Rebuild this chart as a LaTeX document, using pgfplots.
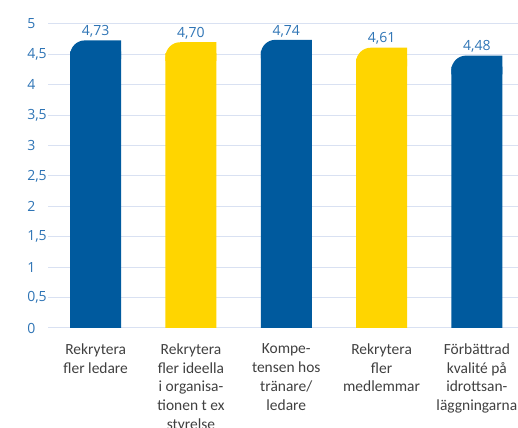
\documentclass[border=0pt]{standalone}
\usepackage{pgfplots}
\pgfplotsset{compat=1.18}
\usepackage{pgfplotstable}
\usepackage{fontspec}
\setmainfont{Carlito}
\newfontfamily\numfont{Open Sans}

\definecolor{barblue}{RGB}{0,90,158}
\definecolor{baryellow}{RGB}{255,213,0}
\definecolor{numblue}{RGB}{46,116,181}
\definecolor{gridc}{RGB}{217,225,242}
\definecolor{labc}{RGB}{64,64,64}

% top of a bar: square on the right, rounded on the left (half width 19.125pt)
\pgfdeclareplotmark{roundtop}{%
  \pgfpathmoveto{\pgfpoint{-19.125pt}{-14pt}}%
  \pgfpathlineto{\pgfpoint{-19.125pt}{-11pt}}%
  \pgfpatharc{180}{90}{11pt}%
  \pgfpathlineto{\pgfpoint{19.125pt}{0pt}}%
  \pgfpathlineto{\pgfpoint{19.125pt}{-14pt}}%
  \pgfpathclose
  \pgfusepathqfill}

\pgfplotstableread{
x v
0 4.73
2 4.74
4 4.48
}\bluebars
\pgfplotstableread{
x v
1 4.70
3 4.61
}\yellowbars

\begin{document}
\begin{tikzpicture}
\begin{axis}[
  at={(36pt,75pt)}, anchor=south west,
  scale only axis, width=357.4pt, height=228pt,
  xmin=-0.5, xmax=4.5, ymin=0, ymax=5,
  ytick={0,0.5,1,1.5,2,2.5,3,3.5,4,4.5,5},
  xtick={0,1,2,3,4},
  xticklabels={
    {Rekrytera\\fler ledare},
    {Rekrytera\\fler ideella\\i organisa-\\tionen t ex\\styrelse},
    {Kompe-\\tensen hos\\tränare/\\ledare},
    {Rekrytera\\fler\\medlemmar},
    {Förbättrad\\kvalité på\\idrottsan-\\läggningarna}},
  axis line style={draw=none}, major tick length=0pt,
  ymajorgrids, grid style={gridc, line width=0.75pt},
  /pgf/number format/.cd, use comma, assume math mode=true, 1000 sep={},
  /pgfplots/.cd,
  yticklabel style={font=\numfont\fontsize{10.5}{12}\selectfont, text=numblue,
    anchor=west, xshift=-15.75pt, inner sep=0pt},
  xticklabel style={font=\fontsize{11.6}{14.2}\selectfont, text=labc,
    align=center, anchor=north, yshift=-8pt},
  bar width=38.25pt,
  body/.style={ybar, bar shift=0pt, draw=none, fill=#1},
  top/.style={only marks, mark=roundtop, mark options={fill=#1, draw=none},
    nodes near coords={\pgfmathprintnumber[fixed,fixed zerofill,precision=2]{\pgfplotspointmeta}},
    every node near coord/.append style={font=\numfont\fontsize{10.5}{12}\selectfont,
      text=numblue, anchor=south, inner sep=2pt}},
]
\addplot[body=barblue] table[x=x, y expr=\thisrow{v}-0.18] {\bluebars};
\addplot[top=barblue] table[x=x, y=v] {\bluebars};
\addplot[body=baryellow] table[x=x, y expr=\thisrow{v}-0.18] {\yellowbars};
\addplot[top=baryellow] table[x=x, y=v] {\yellowbars};
\end{axis}
\pgfresetboundingbox
\path[use as bounding box] (0,0) rectangle (388.5pt,321pt);
\end{tikzpicture}
\end{document}
